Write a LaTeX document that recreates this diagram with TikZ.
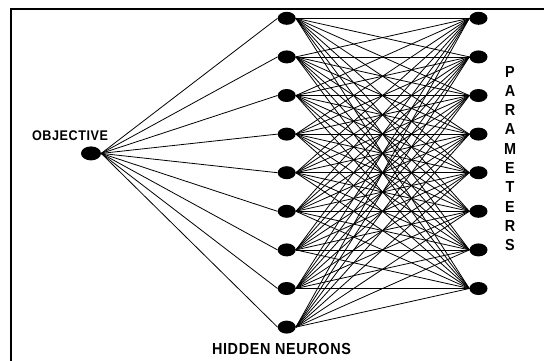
\documentclass[tikz,border=0pt]{standalone}
\usepackage{fontspec}
\setmainfont{Liberation Sans}
\newfontfamily\labfont[LetterSpace=4,FakeStretch=0.9]{Liberation Sans}
\usetikzlibrary{shapes.geometric}
\begin{document}
\begin{tikzpicture}[x=1pt,y=-1pt,
  neuron/.style={ellipse,fill=black,minimum width=18pt,minimum height=13pt,inner sep=0pt},
  link/.style={line width=0.8pt,black},
  lab/.style={font=\labfont\bfseries\fontsize{14}{14}\selectfont,inner sep=0pt},
  biglab/.style={font=\labfont\bfseries\fontsize{16}{16}\selectfont,inner sep=0pt}]
\useasboundingbox (0,0) rectangle (544,360);
\fill[white] (0,0) rectangle (544,360);
\draw[line width=2pt] (11,361) -- (11,9) -- (545,9);
\foreach \i in {0,...,8} \node[neuron] (h\i) at (286.7,{18.3+38.6*\i}) {};
\foreach \i in {0,...,7} \node[neuron] (p\i) at (478.5,{18.3+38.6*\i}) {};
\node[neuron,minimum width=20pt,minimum height=14pt] (obj) at (91,153.4) {};
\foreach \i in {0,...,8} \draw[link] (obj.east) -- (h\i.west);
\foreach \i in {0,...,8} \foreach \j in {0,...,7} \draw[link] (h\i.east) -- (p\j.west);
\node[lab] (objlab) at (70,135.7) {OBJECTIVE};
\node[biglab] (hidlab) at (281.5,348.5) {HIDDEN NEURONS};
\foreach \c [count=\k from 0] in {P,A,R,A,M,E,T,E,R,S}
  \node[biglab] (par\k) at (510,{71.5+19.3*\k}) {\c};
\end{tikzpicture}
\end{document}
